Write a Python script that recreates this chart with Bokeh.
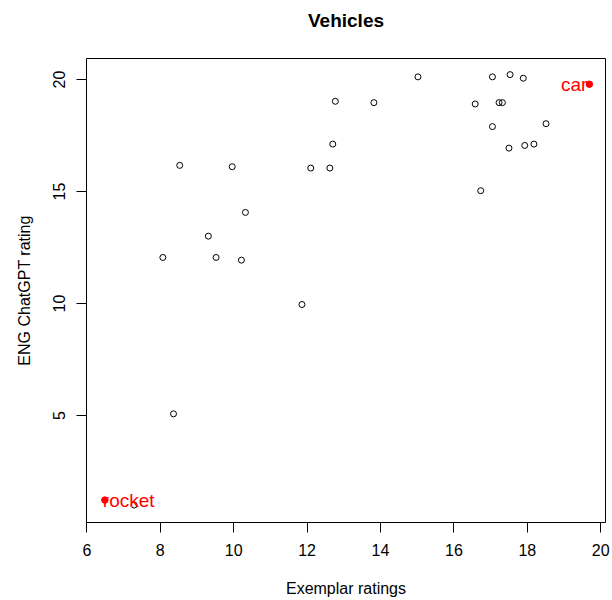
from bokeh.plotting import figure
from bokeh.models import Range1d, FixedTicker, ColumnDataSource, Title
from bokeh.core.properties import value, field
from bokeh.embed import file_html
from bokeh.resources import INLINE

# Unlabelled vehicle items: exemplar rating vs. ChatGPT rating
exemplar = [12.77, 12.70, 8.53, 9.96, 12.10, 12.62, 10.32, 9.31, 8.07, 9.52, 10.21,
            15.02, 17.05, 17.53, 17.89, 13.82, 16.58, 17.23, 17.32, 17.05, 18.51,
            17.50, 17.93, 18.18, 16.73, 11.86, 8.36, 7.29]
chatgpt = [19.03, 17.12, 16.17, 16.11, 16.05, 16.05, 14.07, 13.01, 12.06, 12.06, 11.94,
           20.12, 20.12, 20.22, 20.06, 18.97, 18.91, 18.97, 18.97, 17.90, 18.03,
           16.94, 17.06, 17.12, 15.04, 9.96, 5.08, 1.01]

# Highlighted items
named = ["car", "rocket"]
named_x = [19.69, 6.49]
named_y = [19.79, 1.23]
named_align = ["right", "left"]

x_ticks = [6, 8, 10, 12, 14, 16, 18, 20]
y_ticks = [5, 10, 15, 20]

FONT = "Liberation Sans"

p = figure(width=612, height=600,
           x_range=Range1d(5.99, 20.13), y_range=Range1d(0.23, 20.94),
           output_backend="svg", toolbar_location=None,
           min_border_left=86, min_border_right=7,
           min_border_top=58, min_border_bottom=78,
           title="Vehicles")

p.background_fill_color = "white"
p.border_fill_color = "white"
p.outline_line_color = "black"
p.outline_line_width = 1
p.outline_line_alpha = 1.0
p.xgrid.visible = False
p.ygrid.visible = False

p.title.text_font = FONT
p.title.text_font_size = "19px"
p.title.text_font_style = "bold"
p.title.text_color = "black"
p.title.align = "center"
p.title.vertical_align = "top"
p.title.standoff = 18

# blank band between the plot box and the title
p.add_layout(Title(text=" ", text_font_size="1px", standoff=14), "above")

for ax, ticks in ((p.xaxis[0], x_ticks), (p.yaxis[0], y_ticks)):
    ax.ticker = FixedTicker(ticks=ticks, minor_ticks=[])
    ax.axis_line_color = None
    ax.major_tick_out = 10
    ax.major_tick_in = 0
    ax.minor_tick_out = 0
    ax.minor_tick_in = 0
    ax.major_tick_line_color = "black"
    ax.major_label_text_font = FONT
    ax.major_label_text_font_size = "16px"
    ax.major_label_text_color = "black"
    ax.axis_label_text_font = FONT
    ax.axis_label_text_font_size = "16px"
    ax.axis_label_text_font_style = "normal"
    ax.axis_label_text_color = "black"
    ax.major_label_standoff = 11

p.xaxis.axis_label = "Exemplar ratings"
p.xaxis.axis_label_standoff = 21
p.yaxis.axis_label = "ENG ChatGPT rating"
p.yaxis.axis_label_standoff = 18
p.yaxis.major_label_orientation = "vertical"

# open circles for all items
p.scatter(exemplar, chatgpt, marker="circle", size=6,
          fill_color=None, line_color="black", line_width=1)

# highlighted items in red with their names
src = ColumnDataSource(dict(x=named_x, y=named_y, name=named, align=named_align))
p.scatter("x", "y", source=src, marker="circle", size=6.5,
          fill_color="red", line_color="red")
p.text("x", "y", text="name", source=src, text_align=field("align"),
       text_baseline="middle", text_color="red", x_offset=-2,
       text_font=value(FONT), text_font_size="19px")

open("out.html", "w").write(file_html(p, INLINE))
